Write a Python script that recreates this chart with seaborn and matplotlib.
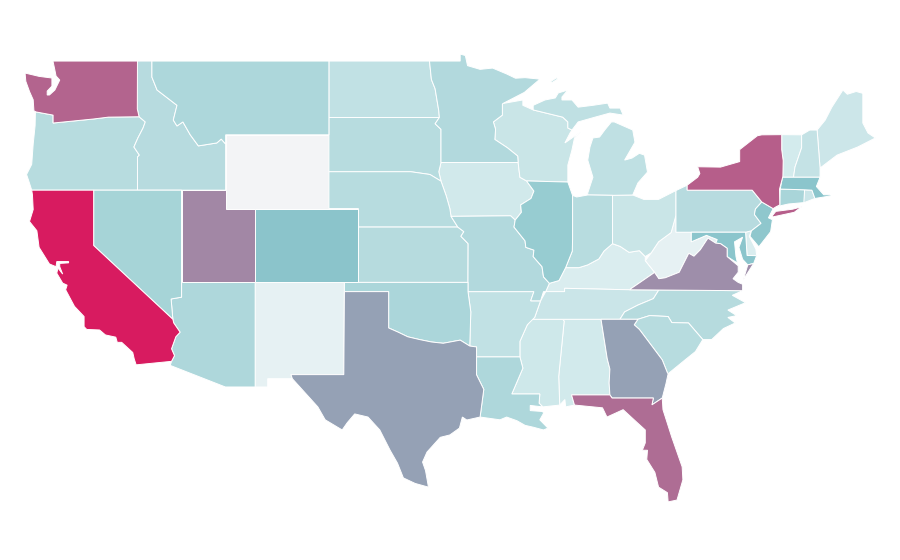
import matplotlib
matplotlib.use("Agg")
import matplotlib.pyplot as plt
from matplotlib.colors import Normalize
import seaborn as sns

# state value on a 0-100 scale
states = ["WY", "NM", "WV", "DE", "KY", "IA", "AL", "MS", "VT", "ME", "WI", "TN", "OH", "NH",
          "ND", "AR", "MI", "MI2", "MI3", "SD", "OR", "ID", "NE", "KS", "MN", "MO", "IN", "PA", "NC", "SC",
          "MT", "OK", "AZ", "LA", "NV", "CT", "RI", "IL", "NJ", "MA", "MD", "CO",
          "TX", "GA", "VA", "VA2", "UT", "FL", "WA", "NY", "NY2", "CA"]
values = [0, 6, 6, 12, 12, 16, 15.5, 17, 14.5, 18, 19.5, 19, 19.5, 21.5,
          23, 23, 23.5, 23.5, 23.5, 27, 27, 27.5, 27, 28, 29.5, 29.5, 27, 27.5, 28, 27,
          32, 32.5, 31.5, 31.5, 35, 33.5, 19, 41.5, 45.5, 47, 47, 47.5,
          59.5, 59.5, 65, 65, 67.5, 75, 78, 80, 80, 100]

# outlines as lon, lat
WA = [(-117.03, 49), (-122.76, 49), (-122.63, 48.51), (-122.55, 48.19), (-122.3, 47.97), (-122.63, 47.43), (-123, 47.16),
      (-123.15, 47.16), (-123.15, 47.37), (-122.83, 47.64), (-122.83, 48.08), (-123.7, 48.17), (-124.65, 48.35),
      (-124.6, 47.9), (-124.35, 47.35), (-124.1, 46.9), (-124.05, 46.3), (-123.9, 46.24), (-122.75, 46.07), (-122.75, 45.64),
      (-122, 45.7), (-120, 45.86), (-119, 45.96), (-116.92, 45.98), (-117.04, 46.4)]
OR = [(-124.05, 46.3), (-123.9, 46.24), (-122.75, 46.07), (-122.75, 45.64), (-122, 45.7), (-120, 45.86), (-119, 45.96),
      (-116.92, 45.98), (-116.5, 45.7), (-116.65, 45.37), (-117, 44.83), (-117.27, 44.34), (-116.9, 43.9), (-117.03, 43.8),
      (-117.03, 42.0), (-124.2, 42.0), (-124.4, 42.5), (-124.55, 42.85), (-124.2, 43.4), (-124.1, 44.5), (-123.97, 45.5), (-123.95, 46.2)]
CA = [(-124.2, 42), (-120, 42), (-120, 39), (-114.63, 35.0), (-114.57, 34.8), (-114.14, 34.3), (-114.43, 34.05), (-114.72, 33.4),
      (-114.52, 33.03), (-114.72, 32.72), (-117.12, 32.53), (-117.25, 32.85), (-117.35, 33.2), (-118.1, 33.75), (-118.4, 33.75),
      (-118.5, 34.03), (-119.2, 34.15), (-119.6, 34.42), (-120.47, 34.45), (-120.65, 34.6), (-120.65, 35.15), (-121.3, 35.7),
      (-121.9, 36.6), (-121.8, 36.85), (-122.1, 36.96), (-122.5, 37.5), (-122.42, 37.78), (-122.1, 37.45), (-122.3, 37.85),
      (-122.3, 38.03), (-121.7, 38.06), (-121.7, 38.13), (-122.5, 38.13), (-122.55, 37.85), (-123.0, 38.0), (-123.7, 38.9),
      (-123.85, 39.8), (-124.35, 40.3), (-124.1, 40.95), (-124.15, 41.75)]
NV = [(-120, 42), (-114.04, 42), (-114.04, 36.2), (-114.75, 36.1), (-114.63, 35.0), (-120, 39)]
AZ = [(-114.04, 37), (-109.05, 37), (-109.05, 31.33), (-111.07, 31.33), (-114.81, 32.5), (-114.72, 32.72), (-114.52, 33.03),
      (-114.72, 33.4), (-114.43, 34.05), (-114.14, 34.3), (-114.57, 34.8), (-114.63, 35.0), (-114.75, 36.1), (-114.04, 36.2)]
UT = [(-114.04, 42), (-111.05, 42), (-111.05, 41), (-109.05, 41), (-109.05, 37), (-114.04, 37)]
CO = [(-109.05, 41), (-102.05, 41), (-102.05, 37), (-109.05, 37)]
WY = [(-111.05, 45), (-104.05, 45), (-104.05, 41), (-111.05, 41)]
NM = [(-109.05, 37), (-103, 37), (-103.04, 32), (-106.62, 32), (-106.53, 31.78), (-108.2, 31.78), (-108.2, 31.33), (-109.05, 31.33)]
ID = [(-117.03, 49), (-116.05, 49), (-116.05, 48.13), (-115.7, 47.43), (-115, 47), (-114.35, 46.6), (-114.6, 45.8), (-114.35, 45.48),
      (-113.95, 45.7), (-113.45, 45), (-112.9, 44.4), (-111.65, 44.56), (-111.35, 44.77), (-111.05, 44.5), (-111.05, 42),
      (-117.03, 42), (-117.03, 43.8), (-116.9, 43.9), (-117.27, 44.34), (-117, 44.83), (-116.65, 45.37), (-116.5, 45.7),
      (-116.92, 45.98), (-117.04, 46.4)]
MT = [(-116.05, 49), (-104.05, 49), (-104.05, 45), (-111.05, 45), (-111.05, 44.5), (-111.35, 44.77), (-111.65, 44.56), (-112.9, 44.4),
      (-113.45, 45), (-113.95, 45.7), (-114.35, 45.48), (-114.6, 45.8), (-114.35, 46.6), (-115, 47), (-115.7, 47.43), (-116.05, 48.13)]
ND = [(-104.05, 49), (-97.23, 49), (-97.1, 48), (-96.85, 47.5), (-96.6, 46.3), (-96.56, 45.94), (-104.05, 45.94)]
SD = [(-104.05, 45.94), (-96.56, 45.94), (-96.85, 45.6), (-96.45, 45.3), (-96.45, 43.5), (-96.6, 43.0), (-96.45, 42.49),
      (-97.2, 42.85), (-98.5, 43.0), (-104.05, 43)]
NE = [(-104.05, 43), (-98.5, 43), (-97.2, 42.85), (-96.45, 42.49), (-96.1, 41.7), (-95.85, 41.0), (-95.77, 40.58), (-95.31, 40),
      (-102.05, 40), (-102.05, 41), (-104.05, 41)]
KS = [(-102.05, 40), (-95.31, 40), (-94.9, 39.75), (-95.1, 39.5), (-94.61, 39.1), (-94.62, 37), (-102.05, 37)]
OK = [(-103, 37), (-94.62, 37), (-94.62, 36.5), (-94.43, 35.4), (-94.5, 33.55), (-95.15, 33.87), (-96.3, 33.7), (-97.1, 33.77),
      (-97.9, 33.9), (-98.7, 34.05), (-99.35, 34.3), (-100, 34.53), (-100, 36.5), (-103, 36.5)]
TX = [(-103, 36.5), (-100, 36.5), (-100, 34.53), (-99.35, 34.3), (-98.7, 34.05), (-97.9, 33.9), (-97.1, 33.77), (-96.3, 33.7),
      (-95.15, 33.87), (-94.5, 33.55), (-94.04, 33.5), (-94.04, 33.0), (-94.04, 31.99), (-93.55, 31.2), (-93.7, 30.3),
      (-93.8, 29.7), (-94.7, 29.54), (-95.0, 29.7), (-95.2, 29.1), (-95.85, 28.73), (-96.5, 28.6), (-97.4, 27.8), (-97.7, 27.26),
      (-97.5, 26.8), (-97.3, 25.9), (-98.2, 26.1), (-99.0, 26.4), (-99.4, 27.2), (-99.9, 27.9), (-100.6, 29.0), (-101.4, 29.7),
      (-102.3, 29.87), (-102.8, 29.4), (-103.15, 29.0), (-104.3, 29.55), (-104.8, 30.25), (-106.53, 31.78), (-106.62, 32), (-103.04, 32)]
MN = [(-97.23, 49), (-95.15, 49), (-95.15, 49.38), (-94.8, 49.3), (-94.65, 48.75), (-93.8, 48.55), (-92.95, 48.62), (-92.0, 48.3),
      (-91.4, 48.07), (-90.75, 48.1), (-89.74, 48.02), (-90.8, 47.3), (-92.25, 46.7), (-92.29, 46.66), (-92.29, 46.07), (-92.9, 45.7),
      (-92.75, 45.3), (-92.8, 44.75), (-91.95, 44.3), (-91.25, 43.85), (-91.22, 43.5), (-96.45, 43.5), (-96.45, 45.3), (-96.85, 45.6),
      (-96.56, 45.94), (-96.6, 46.3), (-96.85, 47.5), (-97.1, 48)]
IA = [(-96.45, 43.5), (-91.22, 43.5), (-91.1, 42.7), (-90.65, 42.5), (-90.15, 41.95), (-90.35, 41.55), (-91.05, 41.2), (-91.0, 40.8),
      (-91.42, 40.38), (-91.73, 40.61), (-95.77, 40.58), (-95.85, 41.0), (-96.1, 41.7), (-96.45, 42.49), (-96.6, 43.0)]
MO = [(-95.77, 40.58), (-91.73, 40.61), (-91.42, 40.38), (-91.5, 40.0), (-90.75, 39.25), (-90.7, 38.9), (-90.15, 38.75), (-90.2, 38.4),
      (-89.6, 37.85), (-89.5, 37.3), (-89.1, 36.95), (-89.35, 36.5), (-89.5, 36.5), (-89.7, 36.0), (-90.37, 36.0), (-90.15, 36.5),
      (-94.62, 36.5), (-94.62, 37), (-94.61, 39.1), (-95.1, 39.5), (-94.9, 39.75), (-95.31, 40)]
AR = [(-94.62, 36.5), (-90.15, 36.5), (-90.37, 36.0), (-89.7, 36.0), (-90.1, 35.1), (-90.6, 34.7), (-91.1, 33.8), (-91.1, 32.96),
      (-94.04, 32.96), (-94.04, 33.5), (-94.5, 33.55), (-94.43, 35.4)]
LA = [(-94.04, 32.96), (-91.1, 32.96), (-90.9, 32.35), (-91.65, 30.95), (-89.75, 30.95), (-89.8, 30.45), (-89.55, 30.25),
      (-90.4, 30.33), (-90.4, 30.05), (-89.55, 30.0), (-89.5, 29.9), (-89.75, 29.55), (-89.2, 29.1), (-89.5, 29.0), (-90.2, 29.15),
      (-90.75, 29.25), (-91.3, 29.5), (-92, 29.7), (-92.45, 29.55), (-93.8, 29.7), (-93.7, 30.3), (-93.55, 31.2), (-94.04, 31.99)]
MS = [(-91.1, 32.96), (-91.1, 33.8), (-90.6, 34.7), (-90.3, 35.0), (-88.2, 35.0), (-88.1, 34.9), (-88.47, 31.9), (-88.4, 30.35),
      (-89.55, 30.25), (-89.8, 30.45), (-89.75, 30.95), (-91.65, 30.95), (-90.9, 32.35)]
AL = [(-88.2, 35), (-85.6, 35), (-85.18, 32.87), (-85.0, 32.3), (-85.05, 31.55), (-85.0, 30.9), (-87.6, 30.9), (-87.4, 30.35),
      (-88.0, 30.25), (-88.05, 30.65), (-88.4, 30.35), (-88.47, 31.9), (-88.1, 34.9)]
GA = [(-85.6, 35), (-83.1, 35), (-83.35, 34.7), (-83.0, 34.45), (-82.2, 33.6), (-81.45, 32.8), (-81.1, 32.1), (-81.05, 32.05),
      (-81.2, 31.5), (-81.45, 30.73), (-82.15, 30.36), (-82.05, 30.73), (-84.85, 30.73), (-85, 30.9), (-85.05, 31.55), (-85, 32.3), (-85.18, 32.87)]
FL = [(-87.6, 30.9), (-85, 30.9), (-84.85, 30.73), (-82.05, 30.73), (-82.15, 30.36), (-81.45, 30.73), (-81.4, 30.1), (-80.8, 28.6),
      (-80.1, 27), (-80.05, 26.3), (-80.45, 25.2), (-81.05, 25.1), (-81.1, 25.6), (-81.7, 25.9), (-81.95, 26.7), (-82.5, 27.4),
      (-82.45, 27.9), (-82.8, 27.9), (-82.6, 28.3), (-82.6, 29.0), (-83.15, 29.4), (-84.1, 30.1), (-85.2, 29.7), (-85.5, 30.2), (-87.4, 30.35)]
SC = [(-83.35, 34.7), (-83.1, 35), (-82.3, 35.2), (-81.05, 35.15), (-80.8, 34.82), (-79.67, 34.8), (-78.7, 33.9), (-79.2, 33.25),
      (-79.9, 32.8), (-81.05, 32.05), (-81.1, 32.1), (-81.45, 32.8), (-82.2, 33.6), (-83, 34.45)]
NC = [(-84.32, 35), (-83.1, 35), (-82.3, 35.2), (-81.05, 35.15), (-80.8, 34.82), (-79.67, 34.8), (-78.7, 33.9), (-78.1, 33.9),
      (-77.3, 34.5), (-76.5, 34.8), (-77, 35.1), (-76.4, 35.2), (-77, 35.5), (-75.8, 35.9), (-76.7, 36.3), (-76, 36.55),
      (-81.68, 36.59), (-82.05, 36.12), (-83.1, 35.77), (-84.0, 35.4)]
TN = [(-90.3, 35), (-88.2, 35), (-85.6, 35), (-84.32, 35), (-84, 35.4), (-83.1, 35.77), (-82.05, 36.12), (-81.68, 36.59), (-83.68, 36.6),
      (-88.07, 36.68), (-88.07, 36.5), (-89.35, 36.5), (-89.7, 36), (-90.1, 35.1)]
KY = [(-89.35, 36.5), (-88.07, 36.5), (-88.07, 36.68), (-83.68, 36.6), (-81.97, 37.54), (-82.6, 38.17), (-82.6, 38.4), (-83.0, 38.72),
      (-83.7, 38.63), (-84.3, 38.95), (-84.85, 39.1), (-85.4, 38.7), (-85.75, 38.27), (-86.5, 37.95), (-87.1, 37.8), (-88.0, 37.8),
      (-88.45, 37.1), (-89.1, 36.95)]
VA = [(-83.68, 36.6), (-76, 36.55), (-76.0, 36.9), (-76.3, 37.0), (-76.65, 37.2), (-76.3, 37.55), (-76.3, 37.9), (-77.05, 38.4), (-77.05, 38.85),
      (-77.5, 39.1), (-77.83, 39.13), (-78.35, 39.4), (-78.87, 38.77), (-79.3, 38.42), (-79.65, 38.58), (-80.3, 37.55), (-81.25, 37.25),
      (-81.68, 37.2), (-81.97, 37.54)]
VA2 = [(-75.95, 37.15), (-75.65, 37.95), (-75.25, 38.03)]
WV = [(-81.97, 37.54), (-81.68, 37.2), (-81.25, 37.25), (-80.3, 37.55), (-79.65, 38.58), (-79.3, 38.42), (-78.87, 38.77), (-78.35, 39.4),
      (-77.83, 39.13), (-77.72, 39.32), (-78.45, 39.55), (-79.48, 39.2), (-79.48, 39.72), (-80.52, 39.72), (-80.52, 40.64), (-80.85, 39.7),
      (-81.7, 39.2), (-82.2, 38.6), (-82.6, 38.17)]
OH = [(-84.82, 41.72), (-83.45, 41.74), (-82.7, 41.5), (-81.7, 41.5), (-80.52, 41.98), (-80.52, 40.64), (-80.85, 39.7), (-81.7, 39.2),
      (-82.2, 38.6), (-82.6, 38.4), (-83, 38.72), (-83.7, 38.63), (-84.3, 38.95), (-84.82, 39.1)]
IN = [(-87.53, 41.72), (-87.25, 41.63), (-86.5, 41.74), (-84.82, 41.72), (-84.82, 39.1), (-85.4, 38.7), (-85.75, 38.27), (-86.5, 37.95),
      (-87.1, 37.8), (-88.0, 37.8), (-87.55, 38.7), (-87.53, 39.35)]
IL = [(-90.65, 42.5), (-87.85, 42.44), (-87.53, 41.72), (-87.53, 39.35), (-87.55, 38.7), (-88.0, 37.8), (-88.45, 37.1),
      (-89.1, 36.95), (-89.5, 37.3), (-89.6, 37.85), (-90.2, 38.4), (-90.15, 38.75), (-90.7, 38.9), (-90.75, 39.25), (-91.5, 40),
      (-91.42, 40.38), (-91, 40.8), (-91.05, 41.2), (-90.35, 41.55), (-90.15, 41.95)]
WI = [(-92.25, 46.7), (-90.9, 46.89), (-90.9, 46.6), (-90.2, 46.35), (-88.2, 45.96), (-87.85, 45.7), (-87.85, 45.37), (-87.57, 45.26),
      (-87.7, 45.1), (-88.05, 44.56), (-87.0, 45.15), (-87.4, 44.83), (-87.57, 44.18), (-87.85, 43.36), (-87.85, 42.44), (-90.65, 42.5),
      (-91.1, 42.7), (-91.22, 43.5), (-91.25, 43.85), (-91.95, 44.3), (-92.8, 44.75), (-92.75, 45.3), (-92.9, 45.7), (-92.29, 46.07), (-92.29, 46.66)]
MI = [(-86.5, 41.74), (-84.82, 41.72), (-83.45, 41.74), (-83.1, 42.39), (-82.45, 42.98), (-82.65, 43.9), (-83, 44), (-83.5, 43.74),
      (-84, 43.63), (-83.3, 44.6), (-83.45, 45.26), (-84.7, 45.7), (-84.9, 45.7), (-85.35, 45.26), (-85.7, 44.88), (-86.15, 44.83),
      (-86.35, 44.34), (-86.5, 43.63), (-86.15, 42.7), (-86.5, 41.85)]
MI2 = [(-90.2, 46.6), (-89.4, 46.89), (-88.7, 47), (-88.5, 47.27), (-87.85, 47.43), (-88.25, 47.05), (-88.25, 46.89), (-87.57, 46.89),
       (-87.15, 46.5), (-86.15, 46.6), (-85.15, 46.72), (-85, 46.45), (-84.3, 46.45), (-84.1, 46.07), (-85, 46.18), (-86, 45.96),
       (-87.15, 45.7), (-87.57, 45.26), (-87.85, 45.37), (-87.85, 45.7), (-88.2, 45.96), (-90.2, 46.35)]
MI3 = [(-89.0, 47.9), (-88.6, 48.1), (-88.55, 48.02), (-88.95, 47.82)]
NY = [(-79.76, 42.27), (-79.05, 42.7), (-78.9, 42.9), (-79.05, 43.27), (-77.5, 43.25), (-76.2, 43.55), (-76.2, 44.2), (-75.0, 44.95),
      (-74.7, 45.0), (-73.35, 45.01), (-73.35, 44.2), (-73.25, 43.6), (-73.27, 42.75), (-73.5, 42.05), (-73.48, 41.2), (-73.73, 41.1),
      (-73.93, 41.0), (-74.7, 41.36), (-75.35, 42.0), (-79.76, 42.0)]
NY2 = [(-74.0, 40.6), (-73.75, 40.85), (-72.6, 40.97), (-72.0, 41.1), (-72.5, 40.8), (-73.95, 40.55)]
PA = [(-80.52, 41.98), (-79.76, 42.27), (-79.76, 42.0), (-75.35, 42.0), (-74.7, 41.36), (-75.13, 40.98), (-75.2, 40.68), (-74.75, 40.2),
      (-75.4, 39.8), (-75.8, 39.72), (-80.52, 39.72)]
NJ = [(-74.7, 41.36), (-73.93, 41.0), (-74.25, 40.5), (-73.98, 40.4), (-74.1, 39.75), (-74.9, 38.93), (-75.5, 39.5), (-75.4, 39.8),
      (-74.75, 40.2), (-75.2, 40.68), (-75.13, 40.98)]
DE = [(-75.8, 39.72), (-75.4, 39.8), (-75.55, 39.5), (-75.1, 38.8), (-75.05, 38.45), (-75.7, 38.46)]
MD = [(-79.48, 39.72), (-75.8, 39.72), (-75.7, 38.46), (-75.05, 38.45), (-75.25, 38.03), (-75.65, 37.95), (-76.0, 38.25), (-76.25, 38.9),
      (-76.0, 39.45), (-76.55, 39.2), (-76.45, 38.4), (-76.35, 38.05), (-77.05, 38.4), (-77.05, 38.85), (-77.5, 39.1), (-77.83, 39.13),
      (-77.72, 39.32), (-78.45, 39.55), (-79.48, 39.2)]
CT = [(-73.73, 41.1), (-73.48, 41.2), (-73.45, 42.06), (-71.8, 42.02), (-71.8, 41.33), (-72.9, 41.25)]
RI = [(-71.8, 42.02), (-71.3, 42), (-71.1, 41.55), (-71.85, 41.32)]
MA = [(-73.45, 42.06), (-73.3, 42.7), (-71.2, 42.7), (-70.75, 42.7), (-71, 42.2), (-70.5, 41.75), (-70, 41.75), (-70.2, 42.05),
      (-69.95, 41.7), (-71.1, 41.55), (-71.3, 42), (-71.8, 42.02)]
VT = [(-73.35, 45.01), (-72, 45), (-72, 44.3), (-72.45, 43.25), (-72.55, 42.7), (-73.3, 42.7), (-73.25, 43.6), (-73.35, 44.2)]
NH = [(-72, 45), (-71.45, 45.26), (-70.95, 45.26), (-70.75, 43.2), (-70.75, 42.7), (-71.2, 42.7), (-72.55, 42.7), (-72.45, 43.25), (-72, 44.3)]
ME = [(-70.95, 45.26), (-70.4, 45.8), (-69.95, 46.5), (-69.2, 47.43), (-68.9, 47.2), (-68.3, 47.35), (-67.85, 47.25),
      (-67.85, 45.64), (-67.5, 45.1), (-67, 44.83), (-68.2, 44.34), (-69.6, 43.9), (-70.75, 43.2)]

outlines = {"WA": WA, "OR": OR, "CA": CA, "NV": NV, "AZ": AZ, "UT": UT, "CO": CO, "WY": WY, "NM": NM, "ID": ID, "MT": MT,
            "ND": ND, "SD": SD, "NE": NE, "KS": KS, "OK": OK, "TX": TX, "MN": MN, "IA": IA, "MO": MO, "AR": AR, "LA": LA,
            "MS": MS, "AL": AL, "GA": GA, "FL": FL, "SC": SC, "NC": NC, "TN": TN, "KY": KY, "VA": VA, "VA2": VA2, "WV": WV,
            "OH": OH, "IN": IN, "IL": IL, "WI": WI, "MI": MI, "MI2": MI2, "MI3": MI3, "NY": NY, "NY2": NY2, "PA": PA, "NJ": NJ,
            "DE": DE, "MD": MD, "CT": CT, "RI": RI, "MA": MA, "VT": VT, "NH": NH, "ME": ME}

sns.set_style("white")
cmap = sns.blend_palette(["#f3f4f6", "#d8edef", "#bcdee1", "#a0d1d5", "#85c1c9",
                          "#9a97af", "#ae6e95", "#c3457a", "#d81b60"], n_colors=256, as_cmap=True)
norm = Normalize(0, 100)

fig = plt.figure(figsize=(9, 5.6), dpi=100)
ax = fig.add_axes([0, 0, 1, 1])

for state, value in zip(states, values):
    lons, lats = zip(*outlines[state])
    ax.fill(lons, lats, facecolor=cmap(norm(value)), edgecolor="white", linewidth=0.7)

ax.set_xlim(-126.35, -65.33)
ax.set_ylim(21.95, 52.31)
ax.set_axis_off()

fig.savefig("out.png", dpi=100, facecolor="white")
